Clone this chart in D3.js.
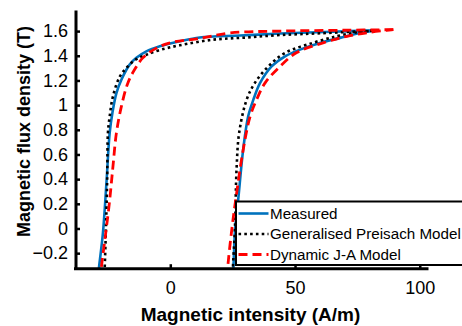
<!DOCTYPE html>
<html>
<head>
<meta charset="utf-8">
<script src="https://cdn.jsdelivr.net/npm/d3@7"></script>
<style>
  html, body { margin: 0; padding: 0; background: #fff; }
  svg { display: block; font-family: "Liberation Sans", Arial, sans-serif; }
</style>
</head>
<body>
<svg id="chart" width="462" height="326"></svg>
<script>
// ---- Data (H in A/m, B in T) ----
const seriesNames = ["Measured", "Generalised Preisach Model", "Dynamic J-A Model"];
const xTicks = [0, 50, 100];
const yTicks = [-0.2, 0, 0.2, 0.4, 0.6, 0.8, 1, 1.2, 1.4, 1.6];

const measuredDesc = [[83,1.607],[65,1.595],[44,1.58],[28,1.564],[11.8,1.548],[3.8,1.517],[-4.2,1.477],[-9.6,1.436],[-13.6,1.383],[-16.3,1.328],[-19.6,1.206],[-21.6,1.098],[-23.2,0.938],[-24.3,0.775],[-25.6,0.368],[-27,-0.036],[-28.6,-0.32],[-29,-0.4]];
const measuredAsc = [[25.1,-0.4],[25.3,-0.32],[26,0],[27.2,0.23],[29.2,0.637],[31.2,0.908],[33.3,1.044],[36,1.18],[40.6,1.314],[46,1.396],[52,1.45],[60,1.504],[68,1.545],[76,1.585],[83,1.607]];

const preisachDesc = [[81,1.603],[60,1.582],[44,1.568],[30.5,1.548],[17,1.53],[3.8,1.485],[-4.2,1.447],[-9.6,1.408],[-13.6,1.372],[-17,1.314],[-20.2,1.233],[-23,1.07],[-24.3,0.908],[-25,0.775],[-25.3,0.4],[-25.8,0],[-26.3,-0.32],[-26.5,-0.4]];
const preisachAsc = [[25,-0.4],[25.1,-0.32],[25.9,0],[26.6,0.5],[27.6,0.775],[30.6,1.044],[33.9,1.18],[39.3,1.314],[46,1.423],[57,1.504],[66.7,1.558],[74.8,1.59],[81,1.603]];

const jaDesc = [[89.4,1.612],[70,1.607],[44,1.6],[24,1.585],[10.6,1.537],[1,1.51],[-5.4,1.464],[-11,1.383],[-14.3,1.288],[-17,1.18],[-19.6,0.99],[-21.6,0.775],[-23,0.5],[-24.3,0.23],[-25.9,-0.04],[-27.6,-0.31],[-28,-0.4]];
const jaAsc = [[22.8,-0.4],[23,-0.32],[24.7,0],[26.2,0.23],[29.2,0.637],[32,0.908],[34.6,1.044],[38,1.18],[44,1.314],[50.7,1.426],[61.2,1.504],[70.8,1.558],[80,1.59],[89.4,1.612]];

// ---- Layout ----
const svg = d3.select("#chart");
const x = d3.scaleLinear().domain([-38, 103.5]).range([75.5, 428.5]);
const y = d3.scaleLinear().domain([-0.326, 1.771]).range([268.7, 10]);

const styles = [
  { color: "#0072BD", width: 2.6, dash: null },
  { color: "#000000", width: 2.6, dash: "2.6,3.2" },
  { color: "#FF0000", width: 2.8, dash: "9,5" }
];
const curves = [
  [measuredDesc, measuredAsc],
  [preisachDesc, preisachAsc],
  [jaDesc, jaAsc]
];

svg.append("defs").append("clipPath").attr("id", "plotclip")
  .append("rect").attr("x", 75.5).attr("y", 0).attr("width", 353).attr("height", 268.7);

const line = d3.line().x(d => x(d[0])).y(d => y(d[1])).curve(d3.curveCatmullRom.alpha(0.5));

const plot = svg.append("g").attr("clip-path", "url(#plotclip)");
curves.forEach((branches, i) => {
  branches.forEach(b => {
    plot.append("path").datum(b)
      .attr("d", line)
      .attr("fill", "none")
      .attr("stroke", styles[i].color)
      .attr("stroke-width", styles[i].width)
      .attr("stroke-dasharray", styles[i].dash);
  });
});

// ---- Axes ----
const xAxis = d3.axisBottom(x).tickValues(xTicks).tickSizeInner(-4.5).tickSizeOuter(0).tickPadding(13).tickFormat(d3.format("d"));
const yAxis = d3.axisLeft(y).tickValues(yTicks).tickSizeInner(-4.5).tickSizeOuter(0).tickPadding(7.5).tickFormat(d => d3.format("")(d));

const gx = svg.append("g").attr("transform", `translate(0,${y.range()[0]})`).call(xAxis);
const gy = svg.append("g").attr("transform", `translate(${x.range()[0]},0)`).call(yAxis);
[gx, gy].forEach(g => {
  g.select(".domain").attr("stroke", "#000").attr("stroke-width", 3);
  g.selectAll(".tick line").attr("stroke", "#000").attr("stroke-width", 2.5);
  g.selectAll(".tick text").attr("fill", "#000").attr("font-size", 18)
    .attr("font-family", "'Liberation Sans', Arial, sans-serif");
});
gx.select(".domain").attr("d", `M${x.range()[0]-1.5},0H${x.range()[1]}`);

// ---- Legend ----
const leg = svg.append("g");
leg.append("rect").attr("x", 236).attr("y", 201.5).attr("width", 240).attr("height", 63.5)
  .attr("fill", "#fff").attr("stroke", "#000").attr("stroke-width", 2);
const rowY = [213.5, 234, 254.5];
seriesNames.forEach((name, i) => {
  leg.append("line").attr("x1", 238.5).attr("x2", 268.5).attr("y1", rowY[i]).attr("y2", rowY[i])
    .attr("stroke", styles[i].color).attr("stroke-width", styles[i].width)
    .attr("stroke-dasharray", styles[i].dash);
  leg.append("text").attr("x", 270).attr("y", rowY[i]).attr("dy", "0.35em")
    .attr("font-size", 15.2).attr("fill", "#000").text(name);
});

// ---- Titles ----
svg.append("text").attr("x", 250.5).attr("y", 321).attr("text-anchor", "middle")
  .attr("font-size", 19).attr("font-weight", "bold").text("Magnetic intensity (A/m)");
svg.append("text").attr("transform", "translate(30,131.5) rotate(-90)").attr("text-anchor", "middle")
  .attr("font-size", 18).attr("font-weight", "bold").text("Magnetic flux density (T)");
</script>
</body>
</html>
